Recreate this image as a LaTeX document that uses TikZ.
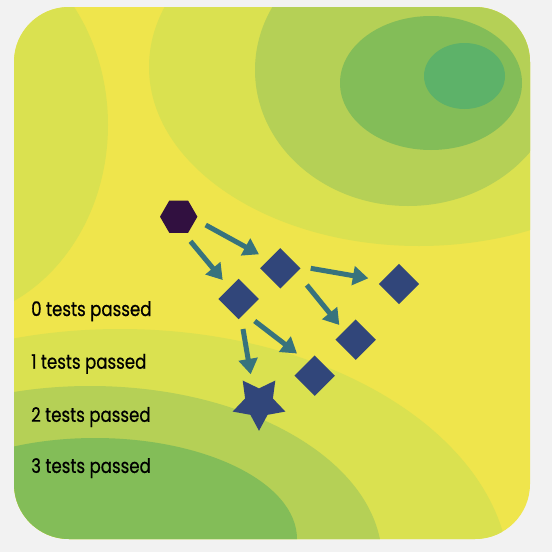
\documentclass[tikz,border=0pt]{standalone}
\usepackage{fontspec}
\setmainfont{Poppins}
\newfontfamily\lblfont{Poppins}[FakeStretch=0.83,FakeBold=0.6]
\usetikzlibrary{shapes.geometric,arrows.meta,calc}
\definecolor{bgout}{HTML}{F2F2F2}
\definecolor{cY}{HTML}{EFE54C}
\definecolor{cA}{HTML}{DAE150}
\definecolor{cB}{HTML}{B5D056}
\definecolor{cC}{HTML}{83BD58}
\definecolor{cD}{HTML}{5DB269}
\definecolor{hexcol}{HTML}{311040}
\definecolor{dcol}{HTML}{31467A}
\definecolor{acol}{HTML}{37737D}
\tikzset{
  hexnode/.style={regular polygon, regular polygon sides=6, minimum size=37.4pt, inner sep=0pt, fill=hexcol},
  dia/.style={diamond, minimum width=40.6pt, minimum height=40.6pt, inner sep=0pt, fill=dcol},
  starnode/.style={star, star points=5, star point ratio=1.9, minimum size=55.5pt, inner sep=0pt, shape border rotate=180, fill=dcol},
  arr/.style={draw=acol, line width=5pt, -{Triangle[length=15.4pt,width=18.7pt]}},
  lbl/.style={anchor=base west, inner sep=0pt, text=black, font=\lblfont\fontsize{20}{24}\selectfont}
}
\begin{document}
\begin{tikzpicture}[x=1pt,y=-1pt]
\useasboundingbox (0,0) rectangle (552,552);
\fill[bgout] (0,0) rectangle (552,552);
\begin{scope}
\clip[rounded corners=55pt] (14,7) rectangle (530,539);
\fill[cY] (0,0) rectangle (552,552);
\fill[cA] (-60,125) ellipse [x radius=168pt, y radius=196pt];
\fill[cA] (419,67) ellipse [x radius=270pt, y radius=179pt];
\fill[cB] (408,70) ellipse [x radius=153pt, y radius=136pt];
\fill[cC] (431,83) ellipse [x radius=91pt, y radius=67pt];
\fill[cD] (464.5,76) ellipse [x radius=40.5pt, y radius=33pt];
\fill[cA] (120,580) ellipse [x radius=390pt, y radius=251pt];
\fill[cB] (90,560) ellipse [x radius=292pt, y radius=174pt];
\fill[cC] (95,539) ellipse [x radius=202pt, y radius=101pt];
\end{scope}
\node[lbl] (l0) at (31,316) {0 tests passed};
\node[lbl] (l1) at (31,368.7) {1 tests passed};
\node[lbl] (l2) at (31,421.8) {2 tests passed};
\node[lbl] (l3) at (31,472.9) {3 tests passed};
\node[hexnode] (h) at (178.7,216.7) {};
\node[dia] (A) at (280.3,268.3) {};
\node[dia] (B) at (238.7,299) {};
\node[dia] (C) at (399,284) {};
\node[dia] (D) at (355.7,339.7) {};
\node[dia] (E) at (314.7,375.7) {};
\node[starnode] (S) at (259,403) {};
\draw[arr] ($(h)+(27,8.3)$) -- ($(A)+(-21.3,-14)$);
\draw[arr] ($(h)+(11.8,24.6)$) -- ($(B)+(-16,-19)$);
\draw[arr] ($(A)+(30.4,0)$) -- ($(C)+(-30.7,-5.7)$);
\draw[arr] ($(A)+(26.5,16.7)$) -- ($(D)+(-16.4,-14.7)$);
\draw[arr] ($(B)+(16,22)$) -- ($(E)+(-17.7,-22.2)$);
\draw[arr] ($(B)+(4.3,30)$) -- ($(S)+(-8.3,-28.7)$);
\end{tikzpicture}
\end{document}
